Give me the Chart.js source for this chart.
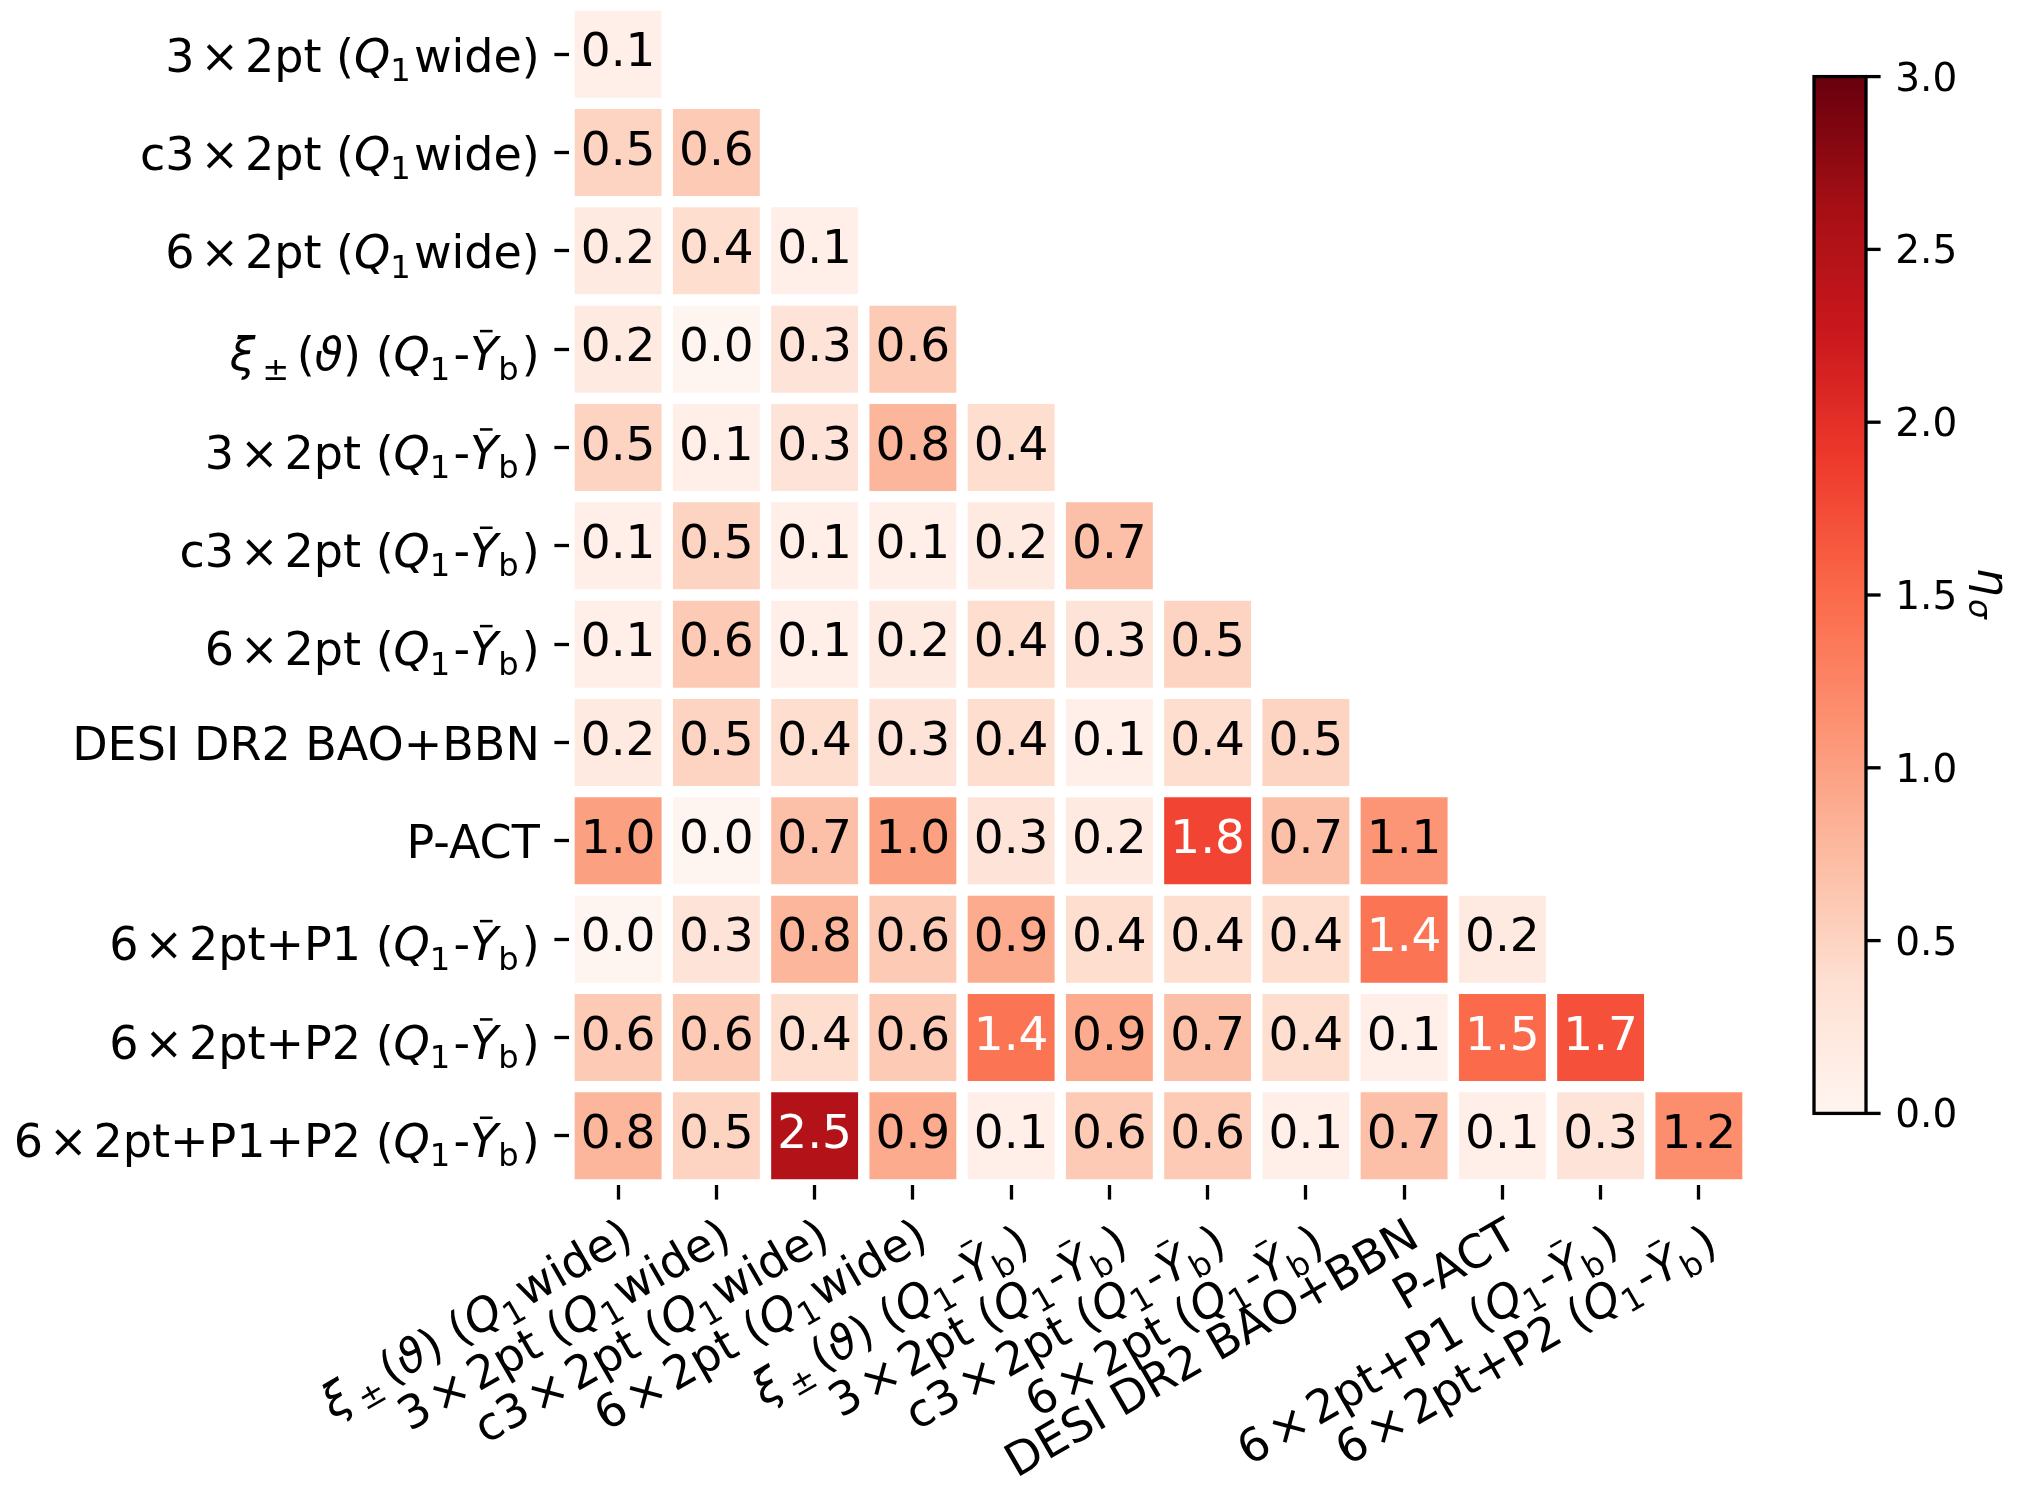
<!DOCTYPE html>
<html>
<head>
<meta charset="utf-8">
<title>Tension matrix</title>
<script src="https://cdn.jsdelivr.net/npm/chart.js@4.4.1/dist/chart.umd.min.js"></script>
<style>
  html, body { margin: 0; padding: 0; background: #fff; }
  #wrap { width: 2018px; height: 1489px; }
</style>
</head>
<body>
<div id="wrap"><canvas id="chart" width="2018" height="1489"></canvas></div>
<script>
// labels use a small mathtext subset: $...$, _x subscripts, \bar{}, \mathrm{}
const colLabels = [
    '$\\xi_\\pm(\\vartheta)$ ($Q_1$wide)',
    '3$\\times$2pt ($Q_1$wide)',
    'c3$\\times$2pt ($Q_1$wide)',
    '6$\\times$2pt ($Q_1$wide)',
    '$\\xi_\\pm(\\vartheta)$ ($Q_1$-$\\bar{Y}_\\mathrm{b}$)',
    '3$\\times$2pt ($Q_1$-$\\bar{Y}_\\mathrm{b}$)',
    'c3$\\times$2pt ($Q_1$-$\\bar{Y}_\\mathrm{b}$)',
    '6$\\times$2pt ($Q_1$-$\\bar{Y}_\\mathrm{b}$)',
    'DESI DR2 BAO+BBN',
    'P-ACT',
    '6$\\times$2pt+P1 ($Q_1$-$\\bar{Y}_\\mathrm{b}$)',
    '6$\\times$2pt+P2 ($Q_1$-$\\bar{Y}_\\mathrm{b}$)'
];

const rowLabels = [
    '3$\\times$2pt ($Q_1$wide)',
    'c3$\\times$2pt ($Q_1$wide)',
    '6$\\times$2pt ($Q_1$wide)',
    '$\\xi_\\pm(\\vartheta)$ ($Q_1$-$\\bar{Y}_\\mathrm{b}$)',
    '3$\\times$2pt ($Q_1$-$\\bar{Y}_\\mathrm{b}$)',
    'c3$\\times$2pt ($Q_1$-$\\bar{Y}_\\mathrm{b}$)',
    '6$\\times$2pt ($Q_1$-$\\bar{Y}_\\mathrm{b}$)',
    'DESI DR2 BAO+BBN',
    'P-ACT',
    '6$\\times$2pt+P1 ($Q_1$-$\\bar{Y}_\\mathrm{b}$)',
    '6$\\times$2pt+P2 ($Q_1$-$\\bar{Y}_\\mathrm{b}$)',
    '6$\\times$2pt+P1+P2 ($Q_1$-$\\bar{Y}_\\mathrm{b}$)'
];

// lower triangle, row i holds columns 0..i
const values = [
    [0.1],
    [0.5, 0.6],
    [0.2, 0.4, 0.1],
    [0.2, 0.0, 0.3, 0.6],
    [0.5, 0.1, 0.3, 0.8, 0.4],
    [0.1, 0.5, 0.1, 0.1, 0.2, 0.7],
    [0.1, 0.6, 0.1, 0.2, 0.4, 0.3, 0.5],
    [0.2, 0.5, 0.4, 0.3, 0.4, 0.1, 0.4, 0.5],
    [1.0, 0.0, 0.7, 1.0, 0.3, 0.2, 1.8, 0.7, 1.1],
    [0.0, 0.3, 0.8, 0.6, 0.9, 0.4, 0.4, 0.4, 1.4, 0.2],
    [0.6, 0.6, 0.4, 0.6, 1.4, 0.9, 0.7, 0.4, 0.1, 1.5, 1.7],
    [0.8, 0.5, 2.5, 0.9, 0.1, 0.6, 0.6, 0.1, 0.7, 0.1, 0.3, 1.16]
];

const vmin = 0;
const vmax = 3;
const cbTicks = [0, 0.5, 1, 1.5, 2, 2.5, 3];
const cbLabel = '$\\eta_\\sigma$';

const FS = 46;        // tick labels
const ANNOT_FS = 47;  // cell annotations
const CB_FS = 39;     // colorbar ticks
const TICK = 14.6;    // tick length and label pad

// matplotlib "Reds"
const redsStops = ['#fff5f0', '#fee0d2', '#fcbba1', '#fc9272', '#fb6a4a',
                   '#ef3b2c', '#cb181d', '#a50f15', '#67000d'];

function hexToRgb(h) {
    return [1, 3, 5].map(k => parseInt(h.substr(k, 2), 16));
}

function reds(t) {
    t = Math.min(1, Math.max(0, t)) * 8;
    const k = Math.min(7, Math.floor(t));
    const f = t - k;
    const a = hexToRgb(redsStops[k]);
    const b = hexToRgb(redsStops[k + 1]);
    return a.map((v, i) => v + (b[i] - v) * f);
}

function rgbStr(c) {
    return `rgb(${c.map(Math.round).join(',')})`;
}

function luminance(c) {
    const lin = c.map(v => {
        v /= 255;
        return v <= 0.03928 ? v / 12.92 : Math.pow((v + 0.055) / 1.055, 2.4);
    });
    return 0.2126 * lin[0] + 0.7152 * lin[1] + 0.0722 * lin[2];
}

// --- tiny mathtext ---
const SYMBOLS = { xi: 'ξ', vartheta: 'ϑ', eta: 'η', sigma: 'σ', pm: '±', times: '×' };
const ITALIC = ['xi', 'vartheta', 'eta', 'sigma'];
const BINOP = ['pm', 'times'];
const GREEK = ['xi', 'vartheta', 'eta', 'sigma'];

function parseLabel(s) {
    const segs = [];
    s.split('$').forEach((p, k) => {
        if (k % 2 === 0) {
            if (p) segs.push({ t: p });
            return;
        }
        let i = 0, sub = false;
        while (i < p.length) {
            const ch = p[i];
            let seg;
            if (ch === '_') { sub = true; i++; continue; }
            if (ch === '\\') {
                const m = /^\\([a-zA-Z]+)(\{([^}]*)\})?/.exec(p.slice(i));
                i += m[0].length;
                if (m[1] === 'bar') seg = { t: m[3], it: true, bar: true };
                else if (m[1] === 'mathrm') seg = { t: m[3] };
                else seg = { t: SYMBOLS[m[1]], it: ITALIC.includes(m[1]),
                             binop: BINOP.includes(m[1]), greek: GREEK.includes(m[1]) };
            } else {
                seg = { t: ch, it: /[A-Za-z]/.test(ch) };
                i++;
            }
            seg.sub = sub;
            sub = false;
            segs.push(seg);
        }
    });
    // spacing: binary operators, gap after greek nucleus, space after scripts
    segs.forEach((seg, k) => {
        const size = seg.sub ? 0.7 : 1;
        seg.padL = seg.binop ? 0.13 * size : 0;
        seg.padR = seg.binop ? 0.13 * size : 0;
        const prev = segs[k - 1];
        const next = segs[k + 1];
        if (seg.sub && prev && !prev.sub && prev.greek) seg.padL += 0.06;
        if (seg.sub && (!next || !next.sub)) seg.padR += 0.07;
    });
    return segs;
}

function setFont(ctx, seg, size) {
    ctx.font = `${seg.it ? 'italic ' : ''}${seg.sub ? size * 0.7 : size}px "DejaVu Sans"`;
}

function drawLabel(ctx, segs, x, y, size, align) {
    let w = 0;
    segs.forEach(seg => {
        setFont(ctx, seg, size);
        seg.gw = ctx.measureText(seg.t).width;
        seg.w = seg.gw + (seg.padL + seg.padR) * size;
        w += seg.w;
    });
    let cx = align === 'right' ? x - w : (align === 'center' ? x - w / 2 : x);
    ctx.textAlign = 'left';
    ctx.textBaseline = 'alphabetic';
    segs.forEach(seg => {
        setFont(ctx, seg, size);
        const gx = cx + seg.padL * size;
        ctx.fillText(seg.t, gx, y + (seg.sub ? size * 0.2 : 0));
        if (seg.bar) {
            ctx.fillRect(gx + seg.gw * 0.35, y - size * 0.88, seg.gw * 0.45, size * 0.055);
        }
        cx += seg.w;
    });
}

function labelAscent(segs) {
    return segs.some(s => s.bar) ? 0.92 : 0.76;
}

const parsedRows = rowLabels.map(parseLabel);
const parsedCols = colLabels.map(parseLabel);

// one floating-bar dataset per row
const datasets = rowLabels.map((lab, i) => ({
    label: lab,
    data: colLabels.map((c, j) => j <= i ? [i - 0.5, i + 0.5] : null),
    backgroundColor: colLabels.map((c, j) => j <= i ? rgbStr(reds((values[i][j] - vmin) / (vmax - vmin))) : 'rgba(0,0,0,0)'),
    borderColor: '#ffffff',
    borderWidth: 6,
    borderSkipped: false,
    barPercentage: 1,
    categoryPercentage: 1,
    grouped: false
}));

const overlay = {
    id: 'overlay',
    afterDatasetsDraw(chart) {
        const ctx = chart.ctx;
        ctx.save();
        ctx.font = `${ANNOT_FS}px "DejaVu Sans"`;
        ctx.textAlign = 'center';
        ctx.textBaseline = 'alphabetic';
        chart.data.datasets.forEach((ds, i) => {
            const meta = chart.getDatasetMeta(i);
            meta.data.forEach((el, j) => {
                if (ds.data[j] == null) return;
                const v = values[i][j];
                const c = reds((v - vmin) / (vmax - vmin));
                ctx.fillStyle = luminance(c) > 0.408 ? '#000000' : '#ffffff';
                ctx.fillText(v.toFixed(1), el.x, (el.y + el.base) / 2 + 0.262 * ANNOT_FS);
            });
        });
        ctx.restore();
    },
    afterDraw(chart) {
        const ctx = chart.ctx;
        const area = chart.chartArea;
        const xs = chart.scales.x;
        const ys = chart.scales.y;
        ctx.save();
        ctx.fillStyle = '#000';

        // y tick labels
        parsedRows.forEach((segs, i) => {
            const y = ys.getPixelForValue(i);
            drawLabel(ctx, segs, area.left - 2 * TICK, y + labelAscent(segs) * FS / 2, FS, 'right');
        });

        // x tick labels, rotated 30 degrees, anchored at their top right
        const y0 = area.bottom + 2 * TICK;
        parsedCols.forEach((segs, j) => {
            ctx.save();
            ctx.translate(xs.getPixelForValue(j), y0);
            ctx.rotate(-Math.PI / 6);
            drawLabel(ctx, segs, 0, labelAscent(segs) * FS, FS, 'right');
            ctx.restore();
        });

        // colorbar
        const cb = { left: 1814, right: 1866, top: 76.6, bottom: 1113.4 };
        const grad = ctx.createLinearGradient(0, cb.bottom, 0, cb.top);
        redsStops.forEach((c, k) => grad.addColorStop(k / 8, c));
        ctx.fillStyle = grad;
        ctx.fillRect(cb.left, cb.top, cb.right - cb.left, cb.bottom - cb.top);
        ctx.strokeStyle = '#000';
        ctx.lineWidth = 3.3;
        ctx.strokeRect(cb.left, cb.top, cb.right - cb.left, cb.bottom - cb.top);

        ctx.fillStyle = '#000';
        ctx.font = `${CB_FS}px "DejaVu Sans"`;
        ctx.textAlign = 'left';
        ctx.textBaseline = 'alphabetic';
        cbTicks.forEach(v => {
            const y = cb.bottom - (v - vmin) / (vmax - vmin) * (cb.bottom - cb.top);
            ctx.fillRect(cb.right, y - 1.65, TICK, 3.3);
            ctx.fillText(v.toFixed(1), cb.right + 2 * TICK, y + 0.36 * CB_FS);
        });

        ctx.save();
        ctx.translate(1986, (cb.top + cb.bottom) / 2);
        ctx.rotate(Math.PI / 2);
        drawLabel(ctx, parseLabel(cbLabel), 0, 0.17 * 45, 45, 'center');
        ctx.restore();

        ctx.restore();
    }
};

new Chart(document.getElementById('chart'), {
    type: 'bar',
    data: {
        labels: colLabels,
        datasets: datasets
    },
    options: {
        responsive: false,
        animation: false,
        devicePixelRatio: 1,
        events: [],
        layout: {
            padding: { left: 0, top: 5, right: 270, bottom: 0 }
        },
        plugins: {
            legend: { display: false },
            tooltip: { enabled: false }
        },
        scales: {
            x: {
                type: 'category',
                offset: true,
                border: { display: false },
                grid: {
                    display: true,
                    offset: false,
                    drawOnChartArea: false,
                    drawTicks: true,
                    tickLength: TICK,
                    tickWidth: 3.3,
                    tickColor: '#000'
                },
                ticks: { display: false },
                afterFit: scale => { scale.height = 304; }
            },
            y: {
                type: 'linear',
                min: -0.5,
                max: 11.5,
                reverse: true,
                border: { display: false },
                grid: {
                    display: true,
                    drawOnChartArea: false,
                    drawTicks: true,
                    tickLength: TICK,
                    tickWidth: 3.3,
                    tickColor: '#000'
                },
                ticks: { display: false },
                afterBuildTicks: scale => {
                    scale.ticks = rowLabels.map((l, i) => ({ value: i }));
                },
                afterFit: scale => { scale.width = 569; }
            }
        }
    },
    plugins: [overlay]
});
</script>
</body>
</html>
